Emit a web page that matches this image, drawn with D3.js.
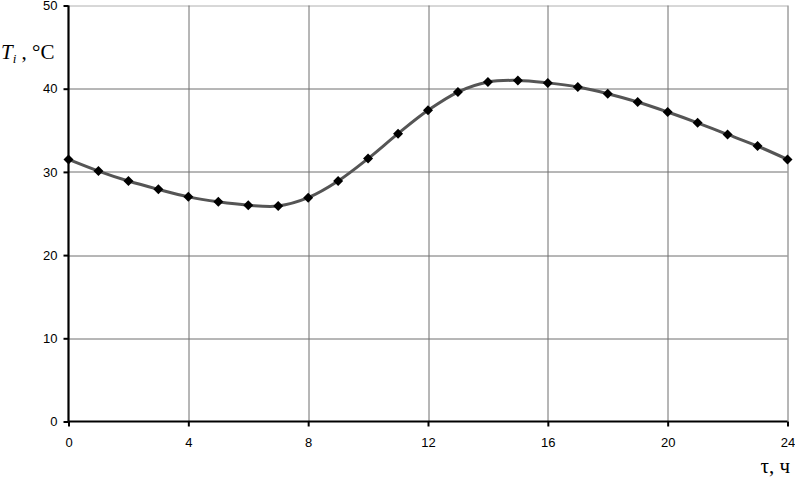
<!DOCTYPE html>
<html>
<head>
<meta charset="utf-8">
<script src="https://cdn.jsdelivr.net/npm/d3@7"></script>
<style>
body { margin: 0; background: #fff; }
</style>
</head>
<body>
<svg id="chart" width="795" height="478"></svg>
<script>
// hours and temperature values
var hours = [0, 1, 2, 3, 4, 5, 6, 7, 8, 9, 10, 11, 12, 13, 14, 15, 16, 17, 18, 19, 20, 21, 22, 23, 24];
var temps = [31.5, 30.1, 28.9, 27.9, 27.0, 26.4, 26.0, 25.9, 26.9, 28.9, 31.6, 34.6, 37.4, 39.6, 40.8, 41.0, 40.7, 40.2, 39.4, 38.4, 37.2, 35.9, 34.5, 33.1, 31.5];
var xTicks = [0, 4, 8, 12, 16, 20, 24];
var yTicks = [0, 10, 20, 30, 40, 50];

var svg = d3.select('#chart'),
    margin = {top: 5.5, right: 7.5, bottom: 56.5, left: 68.5},
    width = +svg.attr('width') - margin.left - margin.right,
    height = +svg.attr('height') - margin.top - margin.bottom,
    g = svg.append('g').attr('transform', 'translate(' + margin.left + ',' + margin.top + ')');

var x = d3.scaleLinear().domain([0, 24]).range([0, width]);
var y = d3.scaleLinear().domain([0, 50]).range([height, 0]);

var data = hours.map(function(h, i) { return {h: h, t: temps[i]}; });

// grid
g.append('g')
    .selectAll('line')
    .data(yTicks.slice(1))
    .enter().append('line')
    .attr('x1', 0)
    .attr('x2', width)
    .attr('y1', function(d) { return Math.round(y(d)) + 0.5; })
    .attr('y2', function(d) { return Math.round(y(d)) + 0.5; })
    .attr('stroke', function(d) { return d === 50 ? '#b0b0b0' : '#6e6e6e'; })
    .attr('stroke-width', 1);

g.append('g')
    .selectAll('line')
    .data(xTicks.slice(1))
    .enter().append('line')
    .attr('x1', function(d) { return Math.round(x(d)) + 0.5; })
    .attr('x2', function(d) { return Math.round(x(d)) + 0.5; })
    .attr('y1', 0)
    .attr('y2', height)
    .attr('stroke', '#6e6e6e')
    .attr('stroke-width', 1);

// axes
var xAxis = g.append('g')
    .attr('transform', 'translate(0,' + height + ')')
    .call(d3.axisBottom(x).tickValues(xTicks).tickSize(5).tickPadding(11).tickFormat(d3.format('d')));

var yAxis = g.append('g')
    .call(d3.axisLeft(y).tickValues(yTicks).tickSize(5).tickPadding(6).tickFormat(d3.format('d')));

[xAxis, yAxis].forEach(function(a) {
    a.select('.domain').attr('stroke', '#000').attr('stroke-width', 2.2);
    a.selectAll('.tick line').attr('stroke', '#000').attr('stroke-width', 2);
    a.selectAll('.tick text')
        .attr('font-family', 'Liberation Sans, Arial, sans-serif')
        .attr('font-size', 13)
        .attr('fill', '#000');
});
xAxis.select('.domain').attr('d', 'M0,0H' + width);
yAxis.select('.domain').attr('d', 'M0,' + height + 'V0');

// curve
var line = d3.line()
    .x(function(d) { return x(d.h); })
    .y(function(d) { return y(d.t); })
    .curve(d3.curveCatmullRom.alpha(0.5));

g.append('path')
    .datum(data)
    .attr('fill', 'none')
    .attr('stroke', '#555')
    .attr('stroke-width', 3)
    .attr('d', line);

// diamond markers
g.append('g')
    .selectAll('path')
    .data(data)
    .enter().append('path')
    .attr('transform', function(d) { return 'translate(' + x(d.h) + ',' + y(d.t) + ')'; })
    .attr('d', 'M0,-5L5,0L0,5L-5,0Z')
    .attr('fill', '#000');

// axis titles
var yTitle = svg.append('text')
    .attr('x', 1)
    .attr('y', 59)
    .attr('font-family', 'Liberation Serif, Times New Roman, serif')
    .attr('font-size', 21)
    .attr('fill', '#000');
yTitle.append('tspan').attr('font-style', 'italic').text('T');
yTitle.append('tspan').attr('font-style', 'italic').attr('font-size', 13).attr('dy', 4).text('i');
yTitle.append('tspan').attr('dy', -4).text(' , °C');

svg.append('text')
    .attr('x', 790)
    .attr('y', 473)
    .attr('text-anchor', 'end')
    .attr('font-family', 'Liberation Serif, Times New Roman, serif')
    .attr('font-size', 21)
    .attr('fill', '#000')
    .text('τ, ч');
</script>
</body>
</html>
